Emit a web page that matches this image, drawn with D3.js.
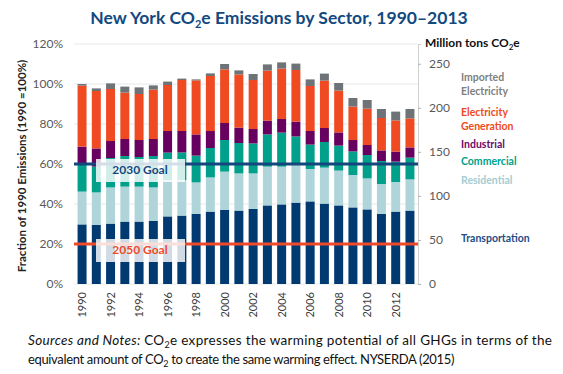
<!DOCTYPE html>
<html>
<head>
<meta charset="utf-8">
<script src="https://cdn.jsdelivr.net/npm/d3@7"></script>
<style>
  body { margin: 0; background: #fff; }
  svg { font-family: Lato, "Open Sans", sans-serif; }
</style>
</head>
<body>
<div id="chart"></div>
<script>
// years shown as bars
const years = d3.range(1990, 2014);

// sector shares, percent of 1990 total emissions
const transportation = [29.8, 29.5, 30.2, 31.2, 31.2, 31.5, 33.8, 34.2, 35.0, 36.2, 37.0, 36.7, 37.5, 39.3, 39.8, 40.7, 41.3, 40.2, 39.3, 38.3, 37.3, 35.0, 36.2, 36.7];
const residential = [16.4, 16.3, 18.1, 17.5, 17.5, 16.8, 18.2, 17.8, 15.8, 17.1, 19.2, 18.6, 17.8, 19.4, 18.9, 18.8, 16.2, 18.0, 17.4, 16.2, 15.5, 15.0, 14.8, 15.6];
const commercial = [14.1, 12.9, 14.7, 15.3, 14.8, 15.7, 13.7, 13.8, 13.4, 14.7, 15.8, 15.2, 15.0, 16.1, 17.0, 14.3, 12.2, 12.8, 12.5, 11.8, 11.7, 11.5, 10.2, 10.9];
const industrial = [8.4, 9.1, 8.5, 8.5, 8.5, 8.5, 10.8, 10.7, 10.6, 8.5, 8.5, 7.7, 7.2, 6.9, 6.8, 7.4, 6.8, 7.0, 6.6, 5.7, 5.0, 5.3, 5.0, 5.1];
const electricityGeneration = [30.5, 28.7, 26.0, 23.2, 23.0, 24.7, 23.0, 25.5, 27.0, 27.5, 26.8, 26.6, 24.5, 25.0, 25.2, 25.8, 22.5, 23.7, 20.9, 16.7, 18.2, 16.2, 15.6, 14.5];
const importedElectricity = [0.8, 1.3, 2.8, 3.0, 3.3, 2.1, 1.7, 0.7, 0.5, 1.3, 2.7, 2.0, 3.0, 3.1, 3.1, 3.2, 3.3, 3.5, 3.8, 4.3, 4.3, 4.5, 4.4, 4.7];

// 1990 total in million tons CO2e (100%)
const base1990 = 227;

const leftTicks = [0, 20, 40, 60, 80, 100, 120];
const rightTicks = [0, 50, 100, 150, 200, 250];

const goals = [
  { name: "2030 Goal", value: 60, color: "#13477e" },
  { name: "2050 Goal", value: 20, color: "#ef4b2a" }
];

const sectors = [
  { key: "transportation", label: ["Transportation"], color: "#003a70", text: "#1c4e87", ly: 238 },
  { key: "residential", label: ["Residential"], color: "#afd5da", text: "#a3cdd3", ly: 180 },
  { key: "commercial", label: ["Commercial"], color: "#00a08a", text: "#00a08a", ly: 161 },
  { key: "industrial", label: ["Industrial"], color: "#67005f", text: "#6a0a6b", ly: 144 },
  { key: "electricityGeneration", label: ["Electricity", "Generation"], color: "#f04a22", text: "#f04a22", ly: 112 },
  { key: "importedElectricity", label: ["Imported", "Electricity"], color: "#6d7377", text: "#7f7f7f", ly: 77 }
];

const series = { transportation, residential, commercial, industrial, electricityGeneration, importedElectricity };

const rows = years.map((y, i) => {
  const r = { year: y };
  sectors.forEach(s => r[s.key] = series[s.key][i]);
  return r;
});

const width = 563, height = 374;
const svg = d3.select("#chart").append("svg")
  .attr("width", width).attr("height", height);

const x = d3.scaleBand()
  .domain(years)
  .range([74, 418])
  .paddingInner(0.37)
  .paddingOuter(0.25);

const yPct = d3.scaleLinear().domain([0, 120]).range([284, 44]);
const yMt = d3.scaleLinear().domain([0, 120 * base1990 / 100]).range([284, 44]);

// title
const title = svg.append("text")
  .attr("x", 279).attr("y", 24)
  .attr("text-anchor", "middle")
  .attr("font-size", 17.5).attr("font-weight", "bold")
  .attr("fill", "#12497f");
title.append("tspan").text("New York CO");
title.append("tspan").attr("font-size", 11).attr("dy", 4).text("2");
title.append("tspan").attr("dy", -4).text("e Emissions by Sector, 1990\u20132013");

// gridlines
svg.append("g")
  .selectAll("line")
  .data(leftTicks)
  .join("line")
  .attr("x1", 74).attr("x2", 418)
  .attr("y1", d => yPct(d)).attr("y2", d => yPct(d))
  .attr("stroke", "#e8e8e8").attr("stroke-width", 1);

// stacked bars
const stack = d3.stack().keys(sectors.map(s => s.key));
const layers = stack(rows);

svg.append("g")
  .selectAll("g")
  .data(layers)
  .join("g")
  .attr("fill", (d, i) => sectors[i].color)
  .selectAll("rect")
  .data(d => d)
  .join("rect")
  .attr("x", d => x(d.data.year))
  .attr("width", x.bandwidth())
  .attr("y", d => yPct(d[1]))
  .attr("height", d => yPct(d[0]) - yPct(d[1]));

// goal lines with labels
goals.forEach(g => {
  svg.append("line")
    .attr("x1", 74).attr("x2", 418)
    .attr("y1", yPct(g.value)).attr("y2", yPct(g.value))
    .attr("stroke", g.color).attr("stroke-width", 3);
  svg.append("rect")
    .attr("x", 96).attr("y", yPct(g.value) - 5)
    .attr("width", 89).attr("height", 23)
    .attr("fill", "#fff").attr("fill-opacity", 0.82);
  svg.append("text")
    .attr("x", 140).attr("y", yPct(g.value) + 10)
    .attr("text-anchor", "middle")
    .attr("font-size", 12).attr("font-weight", "bold")
    .attr("fill", g.color)
    .text(g.name);
});

// left axis (percent)
const leftAxis = svg.append("g")
  .attr("transform", "translate(66,0)")
  .call(d3.axisLeft(yPct).tickValues(leftTicks).tickFormat(d => d + "%").tickSize(0).tickPadding(3));
leftAxis.select(".domain").remove();
leftAxis.selectAll("text").attr("font-size", 12).attr("fill", "#595959").attr("font-family", "Lato, sans-serif");

// right axis (million tons)
const rightAxis = svg.append("g")
  .attr("transform", "translate(418,0)")
  .call(d3.axisRight(yMt).tickValues(rightTicks).tickSize(3).tickPadding(8));
rightAxis.select(".domain").attr("stroke", "#d0d0d0");
rightAxis.selectAll(".tick line").attr("stroke", "#b0b0b0");
rightAxis.selectAll("text").attr("font-size", 12).attr("fill", "#595959").attr("font-family", "Lato, sans-serif");

// x axis labels, every other year
svg.append("g")
  .selectAll("text")
  .data(years.filter(y => y % 2 === 0))
  .join("text")
  .attr("transform", d => `translate(${x(d) + x.bandwidth() / 2 + 4},292) rotate(-90)`)
  .attr("text-anchor", "end")
  .attr("font-size", 11).attr("fill", "#404040")
  .text(d => d);

// left axis title
svg.append("text")
  .attr("transform", "translate(26,166) rotate(-90)")
  .attr("text-anchor", "middle")
  .attr("font-size", 11.5).attr("font-weight", "bold")
  .attr("fill", "#222")
  .text("Fraction of 1990 Emissions (1990 =100%)");

// right axis title
const rt = svg.append("text")
  .attr("x", 425).attr("y", 47)
  .attr("font-size", 12).attr("font-weight", "bold").attr("fill", "#111");
rt.append("tspan").text("Million tons CO");
rt.append("tspan").attr("font-size", 8).attr("dy", 3).text("2");
rt.append("tspan").attr("dy", -3).text("e");

// legend labels
sectors.forEach(s => {
  const t = svg.append("text")
    .attr("x", 461).attr("y", s.ly + 4)
    .attr("font-size", 10.5).attr("font-weight", "bold")
    .attr("fill", s.text);
  s.label.forEach((l, i) => {
    t.append("tspan").attr("x", 461).attr("dy", i === 0 ? 0 : 14).text(l);
  });
});

// footnote
const n1 = svg.append("text")
  .attr("x", 28).attr("y", 345)
  .attr("font-size", 13.5).attr("fill", "#111")
  .attr("textLength", 524).attr("lengthAdjust", "spacing");
n1.append("tspan").attr("font-style", "italic").text("Sources and Notes: ");
n1.append("tspan").text("CO");
n1.append("tspan").attr("font-size", 9).attr("dy", 3).text("2");
n1.append("tspan").attr("dy", -3).text("e expresses the warming potential of all GHGs in terms of the");

const n2 = svg.append("text")
  .attr("x", 28).attr("y", 364)
  .attr("font-size", 13).attr("letter-spacing", -0.35).attr("fill", "#111");
n2.append("tspan").text("equivalent amount of CO");
n2.append("tspan").attr("font-size", 9).attr("dy", 3).text("2");
n2.append("tspan").attr("dy", -3).text(" to create the same warming effect. NYSERDA (2015)");
</script>
</body>
</html>
